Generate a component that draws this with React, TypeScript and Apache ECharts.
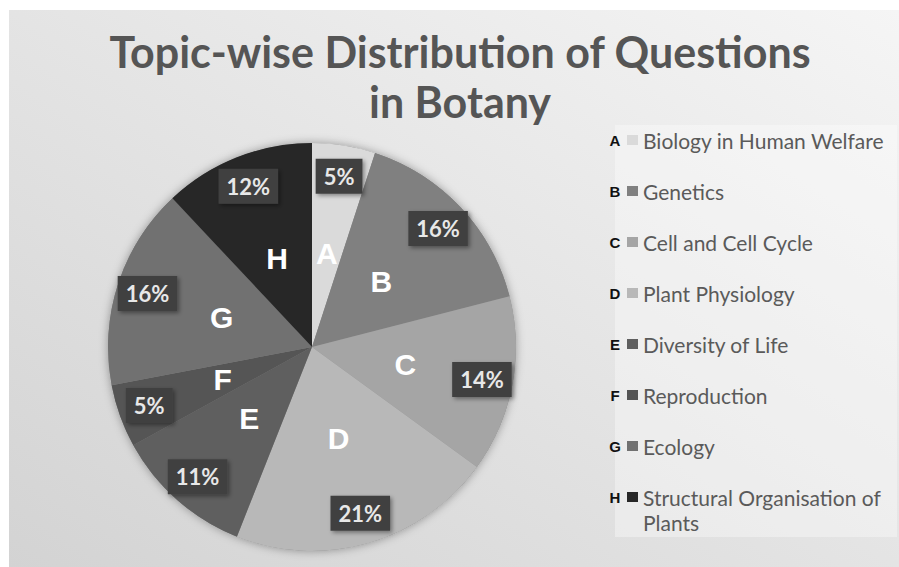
import React, { useEffect, useRef } from "react";
import * as echarts from "echarts";

const letters = ["A", "B", "C", "D", "E", "F", "G", "H"];
const topics = [
  "Biology in Human Welfare",
  "Genetics",
  "Cell and Cell Cycle",
  "Plant Physiology",
  "Diversity of Life",
  "Reproduction",
  "Ecology",
  "Structural Organisation of Plants",
];
const shares = [5, 16, 14, 21, 11, 5, 16, 12];
const palette = ["#dadada", "#808080", "#a5a5a5", "#b8b8b8", "#5f5f5f", "#555555", "#717171", "#272727"];

const titleText = "Topic-wise Distribution of Questions\nin Botany";

export default function App() {
  const ref = useRef<HTMLDivElement>(null);
  useEffect(() => {
    document.body.style.margin = "0";
    const chart = echarts.init(ref.current!, null, { renderer: "svg" });
    const center = [312, 347];
    const R = 204;
    const legendTop = 135;
    const legendStep = 51;
    const lineH = 25;
    const data = topics.map((t, i) => ({ name: t, value: shares[i] }));
    const lastIdx = topics.length - 1;
    const legendText = {
      fontFamily: "Lato",
      fontSize: 21,
      color: "#5a5a5a",
      lineHeight: lineH,
      width: 250,
      overflow: "break",
    };
    const legendBase = {
      orient: "vertical",
      left: 627,
      padding: 0,
      itemWidth: 11,
      itemHeight: 10,
      icon: "rect",
      selectedMode: false,
      textStyle: legendText,
    };
    chart.setOption({
      animation: false,
      color: palette,
      title: {
        text: titleText,
        left: 460,
        textAlign: "center",
        top: 26,
        padding: 0,
        textStyle: {
          fontFamily: "Lato",
          fontWeight: "bold",
          fontSize: 43,
          lineHeight: 50,
          color: "#555555",
        },
      },
      graphic: [
        {
          type: "rect",
          z: -10,
          silent: true,
          shape: { x: 9, y: 10, width: 890, height: 557 },
          style: {
            fill: new echarts.graphic.LinearGradient(0, 1, 1, 0, [
              { offset: 0, color: "#d3d3d3" },
              { offset: 0.5, color: "#e4e4e4" },
              { offset: 1, color: "#f5f5f5" },
            ]),
          },
        },
        {
          type: "rect",
          z: -9,
          silent: true,
          shape: { x: 615, y: 125, width: 282, height: 412 },
          style: { fill: "rgba(255,255,255,0.35)" },
        },
        ...letters.map((l, i) => ({
          type: "text",
          z: 10,
          silent: true,
          x: 615,
          y: legendTop + 5 + i * legendStep,
          style: {
            text: l,
            align: "center",
            verticalAlign: "middle",
            fontFamily: "Liberation Sans",
            fontWeight: "bold",
            fontSize: 15,
            fill: "#111111",
          },
        })),
      ],
      legend: [
        {
          ...legendBase,
          top: legendTop - 7.5,
          height: 480,
          itemGap: legendStep - lineH,
          data: topics.slice(0, lastIdx),
        },
        {
          ...legendBase,
          top: legendTop + 5 + lastIdx * legendStep - 1.5 * lineH,
          height: 120,
          formatter: (name: string) => "\n" + name,
          data: [topics[lastIdx]],
        },
      ],
      series: [
        {
          type: "pie",
          name: "shadow",
          silent: true,
          center,
          radius: [0, R],
          startAngle: 90,
          label: { show: false },
          labelLine: { show: false },
          itemStyle: { color: "#888888", shadowBlur: 10, shadowColor: "rgba(0,0,0,0.35)" },
          data: [{ name: "", value: 1 }],
        },
        {
          type: "pie",
          name: "Botany",
          center,
          radius: [0, R],
          startAngle: 90,
          clockwise: true,
          label: { show: false },
          labelLine: { show: false },
          itemStyle: { borderWidth: 0 },
          emphasis: { disabled: true },
          data,
        },
        {
          type: "pie",
          name: "letters",
          silent: true,
          center,
          radius: [0, 184],
          startAngle: 90,
          clockwise: true,
          itemStyle: { color: "transparent" },
          labelLine: { show: false },
          emphasis: { disabled: true },
          label: {
            show: true,
            position: "inside",
            formatter: (p: any) => letters[p.dataIndex],
            fontFamily: "Liberation Sans",
            fontWeight: "bold",
            fontSize: 30,
            color: "#ffffff",
          },
          data,
        },
        {
          type: "pie",
          name: "percent",
          silent: true,
          center,
          radius: [136, R],
          startAngle: 90,
          clockwise: true,
          itemStyle: { color: "transparent" },
          labelLine: { show: false },
          emphasis: { disabled: true },
          label: {
            show: true,
            position: "inside",
            formatter: "{c}%",
            fontFamily: "Lato",
            fontWeight: "bold",
            fontSize: 22,
            color: "#e8e8e8",
            backgroundColor: "#414141",
            padding: [7, 8, 6, 8],
            shadowBlur: 4,
            shadowOffsetX: 2,
            shadowOffsetY: 2,
            shadowColor: "rgba(0,0,0,0.4)",
          },
          data,
        },
      ],
    });
    return () => chart.dispose();
  }, []);
  return (
    <div
      ref={ref}
      style={{ position: "absolute", left: 0, top: 0, width: 899, height: 567, background: "#ffffff" }}
    />
  );
}
